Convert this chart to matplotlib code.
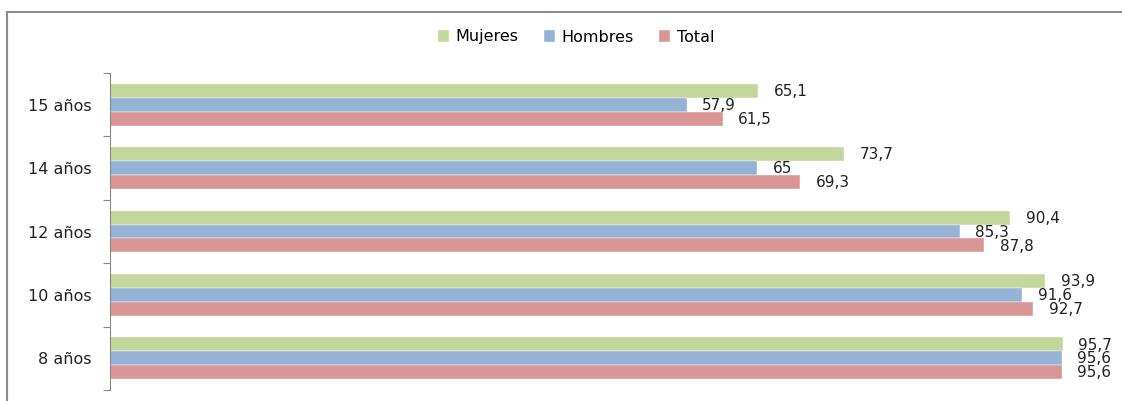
import matplotlib
matplotlib.use("Agg")
import matplotlib.pyplot as plt
import numpy as np
from matplotlib.patches import Rectangle

categories = ["8 años", "10 años", "12 años", "14 años", "15 años"]
mujeres = [95.7, 93.9, 90.4, 73.7, 65.1]
hombres = [95.6, 91.6, 85.3, 65, 57.9]
total = [95.6, 92.7, 87.8, 69.3, 61.5]

series = [
    ("Mujeres", mujeres, "#C3D69B"),
    ("Hombres", hombres, "#95B3D7"),
    ("Total", total, "#D99694"),
]


def fmt(v):
    s = f"{v:g}"
    return s.replace(".", ",")


fig = plt.figure(figsize=(11.22, 4.01), dpi=100)
ax = fig.add_axes([110 / 1122, 11 / 401, 996 / 1122, 317 / 401])

y = np.arange(len(categories))
h = 0.22
offsets = [h, 0, -h]
for (name, vals, color), off in zip(series, offsets):
    bars = ax.barh(y + off, vals, height=h, color=color, label=name,
                   edgecolor="white", linewidth=0.3)
    for b, v in zip(bars, vals):
        ax.annotate(fmt(v), (b.get_width(), b.get_y() + b.get_height() / 2),
                    xytext=(11, -0.5), textcoords="offset points",
                    ha="left", va="center", fontsize=11, color="#222222")

ax.set_xlim(0, 100)
ax.set_ylim(-0.5, len(categories) - 0.5)
ax.set_xticks([])
ax.set_yticks(np.arange(len(categories) + 1) - 0.5)
ax.set_yticklabels([])
ax.set_yticks(y, minor=True)
ax.set_yticklabels(categories, minor=True, fontsize=11.5, color="#222222")
ax.tick_params(axis="y", which="major", length=5, color="#888888", width=0.8)
ax.tick_params(axis="y", which="minor", length=0, pad=13)
for side in ["top", "right", "bottom"]:
    ax.spines[side].set_visible(False)
ax.spines["left"].set_color("#888888")
ax.spines["left"].set_linewidth(0.8)

handles, labels = ax.get_legend_handles_labels()
fig.legend(handles, labels, loc="center", bbox_to_anchor=(576 / 1122, 1 - 37 / 401),
           ncol=3, frameon=False, fontsize=11.5, handlelength=0.7, handleheight=0.7,
           handletextpad=0.4, columnspacing=1.6)

fig.patches.append(Rectangle((7 / 1122, -0.1), 1.2, 1.1 - 12 / 401,
                             transform=fig.transFigure, fill=False,
                             edgecolor="#8c8c8c", linewidth=1.5))

fig.savefig("out.png", dpi=100)
